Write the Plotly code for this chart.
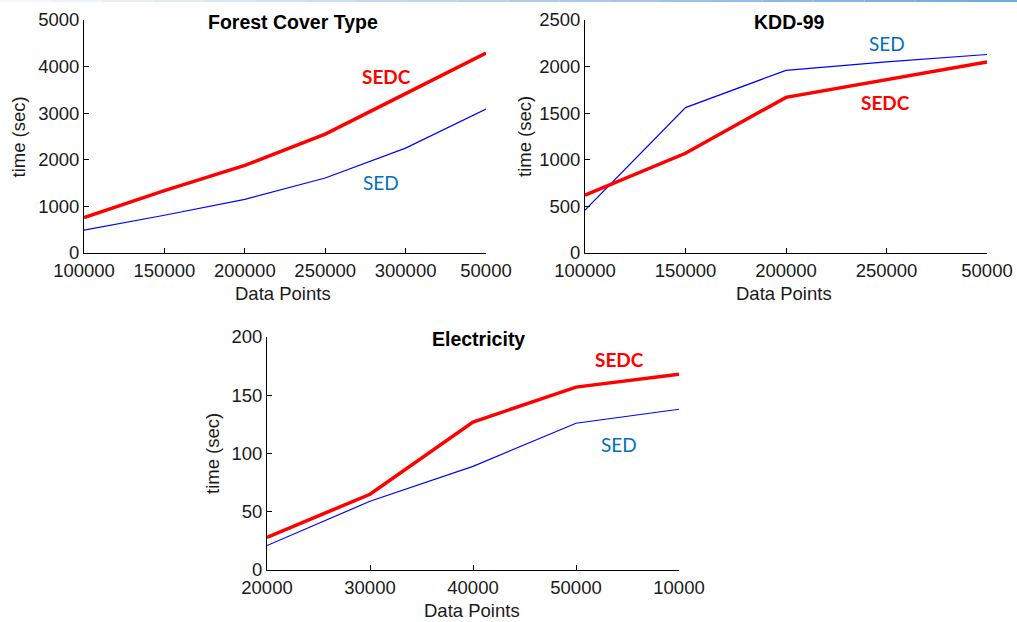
import plotly.graph_objects as go

# ---- data ----
forest_x = ["100000", "150000", "200000", "250000", "300000", "50000"]
forest_sedc = [760, 1340, 1880, 2550, 3420, 4290]
forest_sed = [490, 810, 1150, 1610, 2250, 3090]

kdd_x = ["100000", "150000", "200000", "250000", "50000"]
kdd_sedc = [620, 1070, 1670, 1860, 2050]
kdd_sed = [460, 1560, 1960, 2050, 2130]

elec_x = ["20000", "30000", "40000", "50000", "10000"]
elec_sedc = [28, 65, 127, 157, 168]
elec_sed = [21, 59, 89, 126, 138]

RED = "#ff0000"
BLUE = "#0000ff"
LBL_BLUE = "#0070c0"
TICKFONT = dict(family="Liberation Sans, Arial", size=18.5, color="#1a1a1a")
AXTITLEFONT = dict(family="Liberation Sans, Arial", size=18.5, color="#1a1a1a")

fig = go.Figure()

panels = [
    (forest_x, forest_sedc, forest_sed, "x", "y"),
    (kdd_x, kdd_sedc, kdd_sed, "x2", "y2"),
    (elec_x, elec_sedc, elec_sed, "x3", "y3"),
]
for xs, sedc, sed, xa, ya in panels:
    fig.add_trace(go.Scatter(x=xs, y=sed, mode="lines", line=dict(color=BLUE, width=1.2),
                             xaxis=xa, yaxis=ya, showlegend=False, name="SED", cliponaxis=False))
    fig.add_trace(go.Scatter(x=xs, y=sedc, mode="lines", line=dict(color=RED, width=3.5),
                             xaxis=xa, yaxis=ya, showlegend=False, name="SEDC", cliponaxis=False))

def xax(domain, cats, anchor):
    return dict(domain=domain, anchor=anchor, type="category", categoryorder="array",
                categoryarray=cats, range=[0, len(cats) - 1], showline=True,
                linecolor="black", linewidth=1, ticks="inside", ticklen=5,
                tickcolor="black", showgrid=False, zeroline=False, tickfont=TICKFONT,
                automargin=False, ticklabelstandoff=1)

def yax(domain, rng, dtick, anchor):
    return dict(domain=domain, anchor=anchor, range=rng, dtick=dtick, showline=True,
                linecolor="black", linewidth=1, ticks="inside", ticklen=5,
                tickcolor="black", showgrid=False, zeroline=False, tickfont=TICKFONT,
                automargin=False)

W, H = 1017, 622
def px(a, b):
    return [a / W, b / W]
def py(top, bottom):
    return [1 - bottom / H, 1 - top / H]

fig.update_layout(
    width=W, height=H, margin=dict(l=0, r=0, t=0, b=0),
    paper_bgcolor="white", plot_bgcolor="white",
    xaxis=xax(px(84, 486), forest_x, "y"),
    yaxis=yax(py(20, 253), [0, 5000], 1000, "x"),
    xaxis2=xax(px(585, 987), kdd_x, "y2"),
    yaxis2=yax(py(20, 253), [0, 2500], 500, "x2"),
    xaxis3=xax(px(267, 679), elec_x, "y3"),
    yaxis3=yax(py(337, 570), [0, 200], 50, "x3"),
)

TITLEFONT = dict(family="Liberation Sans, Arial", size=19.5, color="black")
titles = [("<b>Forest Cover Type</b>", 293, 21.5), ("<b>KDD-99</b>", 789, 21.5),
          ("<b>Electricity</b>", 478, 339)]
for t, cx, cy in titles:
    fig.add_annotation(text=t, xref="paper", yref="paper", x=cx / W, y=1 - cy / H,
                       showarrow=False, font=TITLEFONT, xanchor="center", yanchor="middle")

# axis titles
for cx, cy in [(283, 294), (784, 294), (472, 610)]:
    fig.add_annotation(text="Data Points", xref="paper", yref="paper", x=cx / W, y=1 - cy / H,
                       showarrow=False, font=AXTITLEFONT, xanchor="center", yanchor="middle")
for cx, cy in [(17.5, 137), (524, 137), (212, 454)]:
    fig.add_annotation(text="time (sec)", xref="paper", yref="paper", x=cx / W, y=1 - cy / H,
                       showarrow=False, font=AXTITLEFONT, textangle=-90,
                       xanchor="center", yanchor="middle")

LBL = dict(family="Lato, Open Sans", size=19)
labels = [
    ("x", "y", 3.76, 3786, "<b>SEDC</b>", RED),
    ("x", "y", 3.69, 1518, "SED", LBL_BLUE),
    ("x2", "y2", 3.0, 2252, "SED", LBL_BLUE),
    ("x2", "y2", 2.99, 1617, "<b>SEDC</b>", RED),
    ("x3", "y3", 3.42, 181, "<b>SEDC</b>", RED),
    ("x3", "y3", 3.42, 107.4, "SED", LBL_BLUE),
]
for xr, yr, xv, yv, t, c in labels:
    fig.add_annotation(text=t, xref=xr, yref=yr, x=xv, y=yv, showarrow=False,
                       font=dict(**LBL, color=c), xanchor="center", yanchor="middle")

# thin light-blue rule at the very top, fading to the left
c0 = (246, 249, 253)
c1 = (111, 168, 220)
nseg = 20
for i in range(nseg):
    t = (i + 0.5) / nseg
    col = tuple(round(a + (b - a) * t) for a, b in zip(c0, c1))
    fig.add_shape(type="line", xref="paper", yref="paper", x0=i / nseg, x1=(i + 1) / nseg,
                  y0=1 - 1 / H, y1=1 - 1 / H,
                  line=dict(color="rgb(%d,%d,%d)" % col, width=2))

fig.write_html("out.html")
